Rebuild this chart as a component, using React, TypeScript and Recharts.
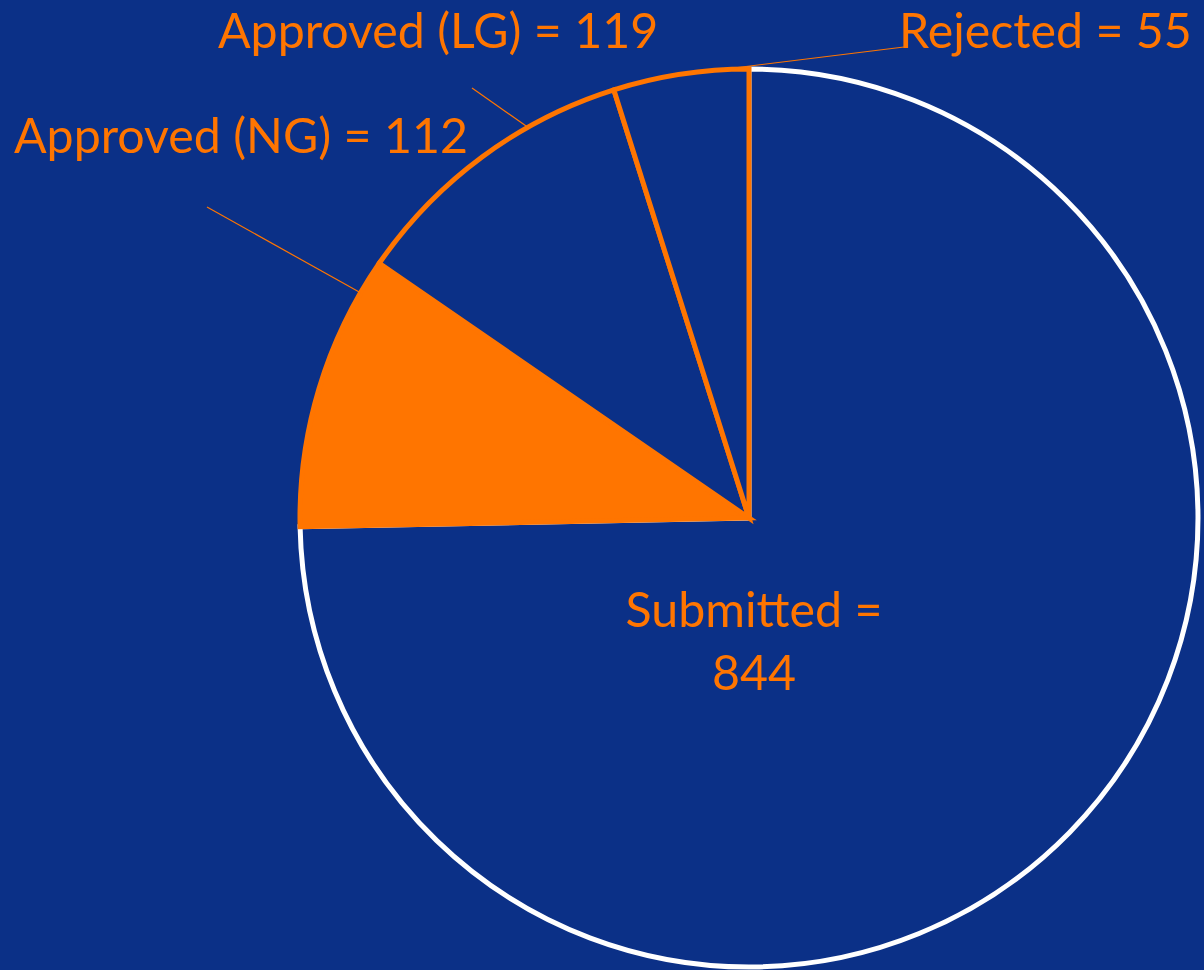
import { PieChart, Pie, Cell } from "recharts";

const categories = ["Submitted", "Approved (NG)", "Approved (LG)", "Rejected"];
const counts = [844, 112, 119, 55];

const BG = "#0b3087";
const ORANGE = "#ff7500";

// per-slice look
const fills = [BG, ORANGE, BG, BG];
const strokes = ["#ffffff", ORANGE, ORANGE, ORANGE];

// label placement relative to the pie centre (PowerPoint-style manual labels)
const labelLayout = [
  { lines: 2, tx: 5, ty: 109, anchor: "middle", lineAngle: null, ex: 0, ey: 0 },
  { lines: 1, tx: -735, ty: -365, anchor: "start", lineAngle: 149.9, ex: -542, ey: -311 },
  { lines: 1, tx: -531, ty: -470, anchor: "start", lineAngle: 119.5, ex: -277, ey: -430 },
  { lines: 1, tx: 150, ty: -470, anchor: "start", lineAngle: 94.3, ex: 155, ey: -471 },
];

const data = categories.map((name, i) => ({ name, value: counts[i] }));

const RAD = Math.PI / 180;

function renderLabel(props: any) {
  const { cx, cy, outerRadius, index, name, value } = props;
  const l = labelLayout[index];
  const font = { fontFamily: "Lato, 'Open Sans', sans-serif", fontSize: 48.3, fill: ORANGE };
  if (l.lines === 2) {
    return (
      <g key={`lbl-${index}`}>
        <text x={cx + l.tx} y={cy + l.ty} textAnchor="middle" {...font}>
          {`${name} =`}
        </text>
        <text x={cx + l.tx} y={cy + l.ty + 63} textAnchor="middle" {...font}>
          {value}
        </text>
      </g>
    );
  }
  const sx = cx + outerRadius * Math.cos((l.lineAngle as number) * RAD);
  const sy = cy - outerRadius * Math.sin((l.lineAngle as number) * RAD);
  return (
    <g key={`lbl-${index}`}>
      <line x1={sx} y1={sy} x2={cx + l.ex} y2={cy + l.ey} stroke={ORANGE} strokeWidth={1.2} />
      <text x={cx + l.tx} y={cy + l.ty} textAnchor={l.anchor as any} {...font}>
        {`${name} = ${value}`}
      </text>
    </g>
  );
}

export default function App() {
  return (
    <div style={{ width: 1204, height: 970, background: BG, position: "absolute", left: 0, top: 0 }}>
      <style>{"body{margin:0;background:" + BG + "}"}</style>
      <PieChart width={1204} height={970} margin={{ top: 0, right: 0, bottom: 0, left: 0 }}>
        <Pie
          data={data}
          dataKey="value"
          nameKey="name"
          cx={749}
          cy={518}
          outerRadius={449}
          startAngle={90}
          endAngle={-270}
          strokeWidth={5}
          label={renderLabel}
          labelLine={false}
          isAnimationActive={false}
        >
          {data.map((d, i) => (
            <Cell key={d.name} fill={fills[i]} stroke={strokes[i]} strokeWidth={5} />
          ))}
        </Pie>
      </PieChart>
    </div>
  );
}
